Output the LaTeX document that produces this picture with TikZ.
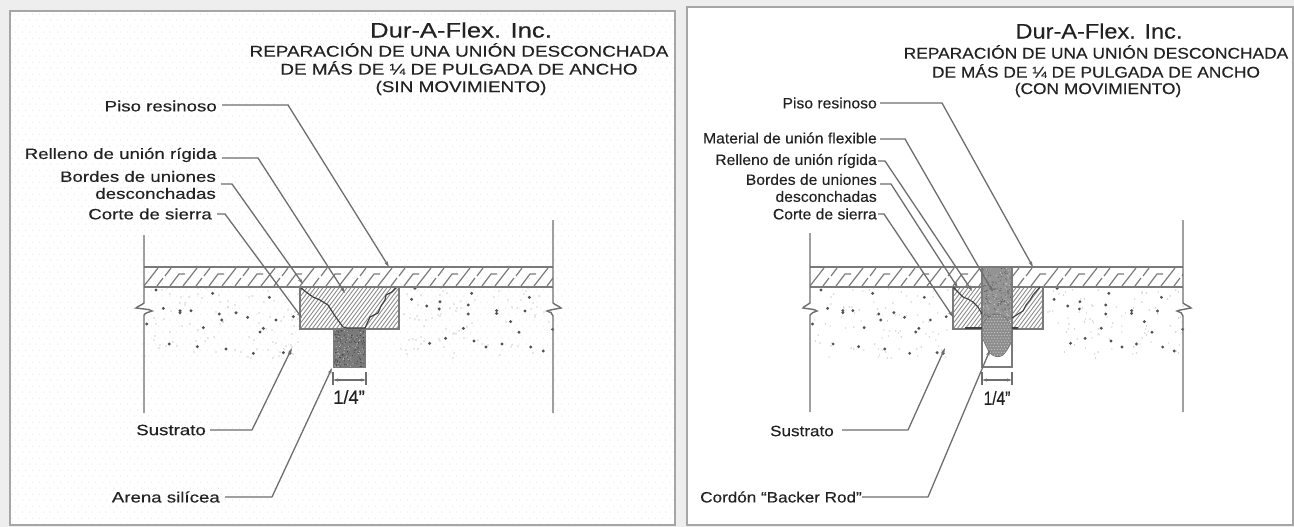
\documentclass[tikz,border=0pt]{standalone}
\usepackage{fontspec}
\usepackage{graphicx}
\setmainfont{Liberation Sans}[RawFeature={embolden=0.25}]
\usetikzlibrary{arrows.meta,patterns}
\pgfdeclarepatternformonly{stipdots}{\pgfpointorigin}{\pgfqpoint{7pt}{12.4pt}}{\pgfqpoint{7pt}{12.4pt}}{%
  \pgfpathcircle{\pgfqpoint{1.75pt}{3.1pt}}{0.6pt}%
  \pgfpathcircle{\pgfqpoint{5.25pt}{9.3pt}}{0.6pt}%
  \pgfusepath{fill}}
\definecolor{ink}{HTML}{222222}
\definecolor{linegray}{HTML}{6E6E6E}
\definecolor{edgegray}{HTML}{7A7A7A}
\definecolor{framegray}{HTML}{A6A6A6}
\definecolor{pagegray}{HTML}{EEEEEE}
\definecolor{stipple}{HTML}{E2E2E2}
\newcommand{\lblfont}{\fontsize{15}{17}\selectfont}
\newcommand{\lblL}[1]{\scalebox{1.245}[1]{#1}}
\newcommand{\lblR}[1]{\scalebox{1.047}[1]{#1}}
\newcommand{\lblRlow}[1]{\scalebox{1.14}[1]{#1}}
\newcommand{\headL}[1]{\scalebox{1.22}[1]{#1}}
\newcommand{\headR}[1]{\scalebox{1.12}[1]{#1}}
\newcommand{\aggregate}[2]{%
  \foreach \a/\b in {108/210,278/220,448/232,130/265,180/272,180/278,213/272,298/282,305/300,348/278,383/292,468/300,520/290,80/312,250/323,430/325,420/336,148/372,232/380,318/387,400/400,490/398,510/400,885/205,875/238,920/258,960/245,958/267,1045/255,1045/282,1055/220,1130/272,1130/280,1228/232,1215/273,1172/305,1197/337,1030/325,977/355,929/370,1062/363,1098/381,1146/372,1232/381,1270/393,1298/328}
    {\fill[black!68] ({#1+#2*(120+\a/3-144)},{220+\b/3}) circle (1.6);}%
}
\newcommand{\finesand}[2]{%
  \foreach \i in {1,...,230}{%
    \pgfmathsetmacro{\px}{random(0,409)}%
    \pgfmathsetmacro{\py}{random(288,358)}%
    \ifdim\px pt<155pt\relax\fill[black!18] ({#1+#2*\px},\py) circle (0.8);\else
    \ifdim\px pt>256pt\relax\fill[black!18] ({#1+#2*\px},\py) circle (0.8);\fi\fi}%
}
\newcommand{\floorslab}[2]{%
  \begin{scope}
    \clip (#1,268) rectangle (#2,286);
    \foreach \n in {0,...,32}{%
      \pgfmathsetmacro{\h}{#1+13*\n}%
      \pgfmathtruncatemacro{\m}{mod(\n,3)}%
      \ifnum\m=0
        \draw[edgegray,line width=1.2] (\h,286) -- (\h+14,268);
      \else\ifnum\m=1
        \draw[edgegray,line width=1.2] (\h,286) -- (\h+6,278) (\h+8,276) -- (\h+14,268);
      \else
        \draw[edgegray,line width=1.2] (\h,286) -- (\h+9,274) -- (\h+15,274);
      \fi\fi}
  \end{scope}
  \draw[edgegray,line width=1.8] (#1,267) -- (#2,267) (#1,287) -- (#2,287);
}
\newcommand{\finehatch}[4]{%
  \begin{scope}
    \clip (#1,#3) rectangle (#2,#4);
    \foreach \n in {0,...,35}{%
      \pgfmathsetmacro{\h}{#1-10+4*\n}%
      \draw[black!45,line width=0.9] (\h-30,#4) -- (\h+30,#4-80);}
  \end{scope}
}
\tikzset{
  leader/.style={linegray,line width=1.3,-{Stealth[length=6pt,width=3.5pt]},line join=round},
  callout/.style={anchor=east,inner sep=0pt,text=ink,font=\lblfont,align=right},
  heading/.style={inner sep=0pt,text=ink,align=center},
  wall/.style={linegray,line width=1.4},
  dimline/.style={linegray,line width=1.1},
  crack/.style={black!75,line width=1.1,line join=round}
}
\begin{document}
\begin{tikzpicture}[x=1pt,y=-1pt]
\useasboundingbox (0,0) rectangle (1294,527);
\fill[pagegray] (0,0) rectangle (1294,527);
% panels
\fill[white] (10,11) rectangle (675,525);
\fill[white] (687,7) rectangle (1293,525);
\fill[pattern=stipdots,pattern color=stipple] (11,12) rectangle (674,524);
\draw[framegray,line width=2.2] (10,11) rectangle (675,525);
\draw[framegray,line width=2.2] (687,7) rectangle (1293,525);
\pgfmathsetseed{4242}
% ===== left panel =====
\finesand{144}{1}
\aggregate{144}{1}
% patch
\fill[white] (300,287) rectangle (399,329);
\finehatch{300}{399}{287}{329}
\draw[edgegray,line width=1.2] (300,287) rectangle (399,329);
% sand
\fill[black!52] (333,329) rectangle (365,367);
\foreach \i in {1,...,130}{%
  \pgfmathsetmacro{\px}{333+rnd*32}\pgfmathsetmacro{\py}{329+rnd*38}%
  \fill[black!72] (\px,\py) circle (0.6);}
\foreach \i in {1,...,70}{%
  \pgfmathsetmacro{\px}{333+rnd*32}\pgfmathsetmacro{\py}{329+rnd*38}%
  \fill[black!28] (\px,\py) circle (0.6);}
\draw[edgegray,line width=0.9] (333,329) rectangle (365,367);
\draw[crack,line width=1.2] (300,287) -- (306,292) -- (313,297) -- (320,300) -- (328,305) -- (335,316) -- (343,327) -- (347,328) -- (365,328) -- (370,317) -- (378,313) -- (381,306) -- (385,300) -- (386,295) -- (392,292) -- (397,287);
\floorslab{144}{553}
% walls
\draw[wall] (144,235) -- (144,303) .. controls (142,305) and (138,306) .. (136,308) .. controls (142,309) and (150,309) .. (152,311) .. controls (149,312) and (145,313) .. (144,315) -- (144,413);
\draw[wall] (553,220) -- (553,303) .. controls (555,305) and (559,306) .. (561,308) .. controls (556,309) and (549,310) .. (547,311) .. controls (550,312) and (553,313) .. (553,316) -- (553,413);
% dimension
\coordinate (lDimA) at (333,380); \coordinate (lDimB) at (366,380);
\draw[dimline] (333,372) -- (333,385) (366,372) -- (366,385);
\draw[dimline,{Stealth[length=5pt,width=3pt]}-{Stealth[length=5pt,width=3pt]}] (lDimA) -- (lDimB);
\node[heading] (lQuarter) at (349,397) {\fontsize{18}{20}\selectfont\scalebox{1.02}[1.05]{1/4"}};
% titles
\node[heading] (lTitle) at (461,30) {\fontsize{21}{24}\selectfont\headL{Dur-A-Flex. Inc.}};
\node[heading] (lSubA) at (459,50) {\fontsize{15.5}{18}\selectfont\headL{REPARACIÓN DE UNA UNIÓN DESCONCHADA}};
\node[heading] (lSubB) at (459,68) {\fontsize{15.5}{18}\selectfont\headL{DE MÁS DE ¼ DE PULGADA DE ANCHO}};
\node[heading] (lSubC) at (461,88) {\fontsize{15.5}{18}\selectfont\headL{(SIN MOVIMIENTO)}};
% labels
\node[callout] (lPiso) at (217,106) {\lblL{Piso resinoso}};
\node[callout] (lRelleno) at (217,155) {\lblL{Relleno de unión rígida}};
\node[callout] (lBordes) at (216,185) {\lblL{Bordes de uniones}\\\lblL{desconchadas}};
\node[callout] (lCorte) at (212,214) {\lblL{Corte de sierra}};
\node[callout] (lSustrato) at (206,430) {\lblL{Sustrato}};
\node[callout] (lArena) at (220,497) {\lblL{Arena silícea}};
\coordinate (lPisoE) at (288,105); \coordinate (lPisoT) at (389,267);
\coordinate (lRellE) at (258,158); \coordinate (lRellT) at (345,293);
\coordinate (lBordE) at (232,184); \coordinate (lBordT) at (303,284);
\coordinate (lCortE) at (225,214); \coordinate (lCortT) at (302,318);
\coordinate (lSustE) at (252,430); \coordinate (lSustT) at (292,348);
\coordinate (lAreE) at (272,497); \coordinate (lAreT) at (332,368);
\draw[leader,shorten <=5pt] (lPiso.east |- lPisoE) -- (lPisoE) -- (lPisoT);
\draw[leader,shorten <=5pt] (lRelleno.east |- lRellE) -- (lRellE) -- (lRellT);
\draw[leader,shorten <=5pt] (lBordes.east |- lBordE) -- (lBordE) -- (lBordT);
\draw[leader,shorten <=5pt] (lCorte.east |- lCortE) -- (lCortE) -- (lCortT);
\draw[leader,shorten <=4pt] (lSustrato.east |- lSustE) -- (lSustE) -- (lSustT);
\draw[leader,shorten <=5pt] (lArena.east |- lAreE) -- (lAreE) -- (lAreT);
% ===== right panel =====
\finesand{810}{0.912}
\aggregate{810}{0.912}
\fill[white] (953,287) rectangle (1043,329);
\finehatch{953}{1043}{287}{329}
\draw[edgegray,line width=1.2] (953,287) rectangle (1043,329);
\floorslab{810}{1183}
% flexible joint material
\fill[white] (982,267) rectangle (1012,367);
\fill[black!42] (982,267) rectangle (1012,322);
\foreach \i in {1,...,160}{%
  \pgfmathsetmacro{\px}{982+rnd*30}\pgfmathsetmacro{\py}{267+rnd*55}%
  \fill[black!62] (\px,\py) circle (0.6);}
\foreach \i in {1,...,90}{%
  \pgfmathsetmacro{\px}{982+rnd*30}\pgfmathsetmacro{\py}{267+rnd*55}%
  \fill[black!22] (\px,\py) circle (0.6);}
% backer rod
\path[fill=black!45,draw=black!55,line width=0.7] (982,324) .. controls (986,318) and (992,314) .. (997,314) .. controls (1004,314) and (1008,320) .. (1012,326) -- (1012,340) .. controls (1010,346) and (1006,352) .. (1003,355) .. controls (999,358) and (993,357) .. (989,352) .. controls (986,346) and (983,340) .. (982,336) -- cycle;
\begin{scope}
  \clip (982,324) .. controls (986,318) and (992,314) .. (997,314) .. controls (1004,314) and (1008,320) .. (1012,326) -- (1012,340) .. controls (1010,346) and (1006,352) .. (1003,355) .. controls (999,358) and (993,357) .. (989,352) .. controls (986,346) and (983,340) .. (982,336) -- cycle;
  \foreach \u in {0,...,11}{\foreach \v in {0,...,16}{%
    \pgfmathsetmacro{\offs}{mod(\v,2)*1.4}%
    \fill[white!75!black] ({982+2.8*\u+\offs},{313+2.8*\v}) circle (0.75);}}
\end{scope}
\draw[edgegray,line width=1.2] (982,267) -- (982,367) -- (1012,367) -- (1012,267) (982,267) -- (1012,267);
\draw[crack] (953,287) -- (958,292) -- (963,297) -- (968,299) -- (973,302) -- (978,307) -- (982,314);
\draw[crack] (1012,318) -- (1018,314) -- (1023,311) -- (1026,305) -- (1030,300) -- (1033,295) -- (1040,287);
\draw[crack] (965,328) -- (982,328) (1012,328) -- (1018,328);
\draw[wall] (810,233) -- (810,303) .. controls (808,305) and (804,306) .. (803,308) .. controls (808,309) and (815,309) .. (817,311) .. controls (814,312) and (811,313) .. (810,315) -- (810,412);
\draw[wall] (1183,220) -- (1183,303) .. controls (1185,305) and (1189,306) .. (1191,308) .. controls (1186,309) and (1179,310) .. (1177,311) .. controls (1180,312) and (1183,313) .. (1183,316) -- (1183,412);
\coordinate (rDimA) at (982,380); \coordinate (rDimB) at (1012,380);
\draw[dimline] (982,372) -- (982,385) (1012,372) -- (1012,385);
\draw[dimline,{Stealth[length=5pt,width=3pt]}-{Stealth[length=5pt,width=3pt]}] (rDimA) -- (rDimB);
\node[heading] (rQuarter) at (997,398) {\fontsize{18}{20}\selectfont\scalebox{0.86}[1.05]{1/4"}};
\node[heading] (rTitle) at (1099,31) {\fontsize{21}{24}\selectfont\headR{Dur-A-Flex. Inc.}};
\node[heading] (rSubA) at (1096,52) {\fontsize{15.5}{18}\selectfont\headR{REPARACIÓN DE UNA UNIÓN DESCONCHADA}};
\node[heading] (rSubB) at (1096,71) {\fontsize{15.5}{18}\selectfont\headR{DE MÁS DE ¼ DE PULGADA DE ANCHO}};
\node[heading] (rSubC) at (1098,90) {\fontsize{15.5}{18}\selectfont\headR{(CON MOVIMIENTO)}};
\node[callout] (rPiso) at (877,103) {\lblR{Piso resinoso}};
\node[callout] (rMat) at (877,138) {\lblR{Material de unión flexible}};
\node[callout] (rRelleno) at (877,161) {\lblR{Relleno de unión rígida}};
\node[callout] (rBordes) at (877,188) {\lblR{Bordes de uniones}\\\lblR{desconchadas}};
\node[callout] (rCorte) at (877,214) {\lblR{Corte de sierra}};
\node[callout] (rSustrato) at (834,431) {\lblRlow{Sustrato}};
\node[callout] (rCordon) at (862,497) {\lblRlow{Cordón “Backer Rod”}};
\coordinate (rPisoE) at (942,103); \coordinate (rPisoT) at (1033,267);
\coordinate (rMatE) at (905,139); \coordinate (rMatT) at (993,292);
\coordinate (rRellE) at (885,161); \coordinate (rRellT) at (972,291);
\coordinate (rBordE) at (891,184); \coordinate (rBordT) at (958,288);
\coordinate (rCortE) at (884,214); \coordinate (rCortT) at (953,317);
\coordinate (rSustE) at (908,430); \coordinate (rSustT) at (945,348);
\coordinate (rCorE) at (928,497); \coordinate (rCorT) at (990,350);
\draw[leader,shorten <=3pt] (rPiso.east |- rPisoE) -- (rPisoE) -- (rPisoT);
\draw[leader,shorten <=3pt] (rMat.east |- rMatE) -- (rMatE) -- (rMatT);
\draw[leader,shorten <=1pt] (rRelleno.east |- rRellE) -- (rRellE) -- (rRellT);
\draw[leader,shorten <=3pt] (rBordes.east |- rBordE) -- (rBordE) -- (rBordT);
\draw[leader,shorten <=1pt] (rCorte.east |- rCortE) -- (rCortE) -- (rCortT);
\draw[leader,shorten <=8pt] (rSustrato.east |- rSustE) -- (rSustE) -- (rSustT);
\draw[leader] (rCordon.east |- rCorE) -- (rCorE) -- (rCorT);
\end{tikzpicture}
\end{document}
